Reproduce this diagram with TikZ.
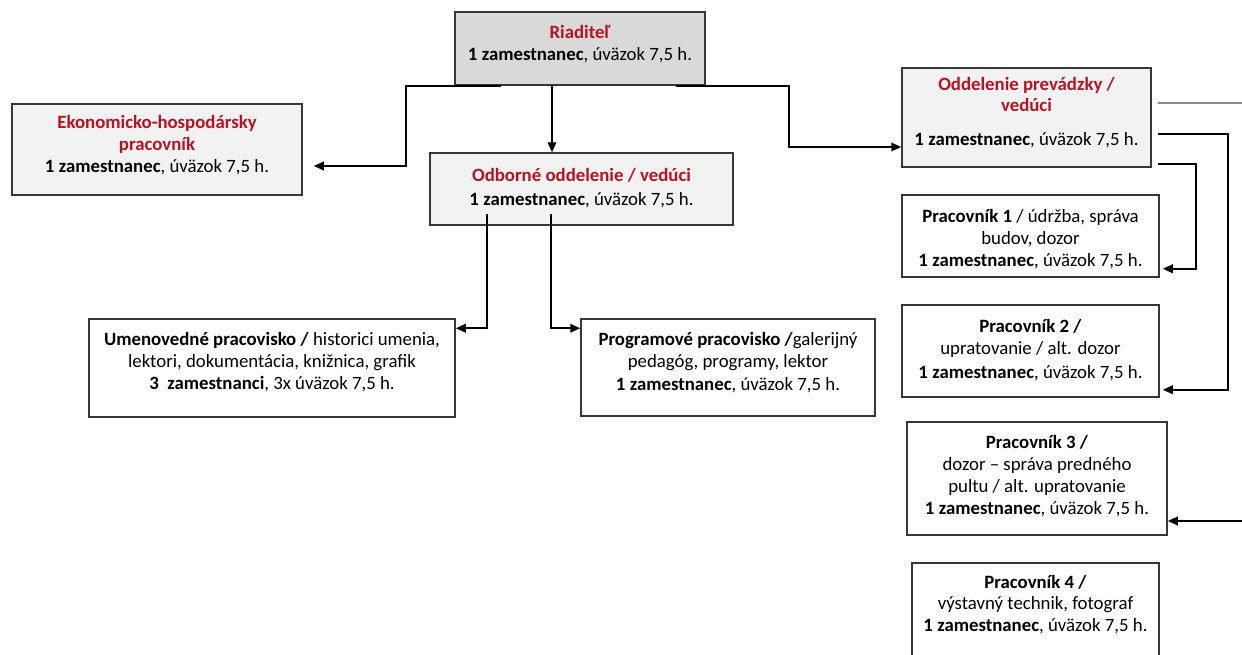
\documentclass[tikz,border=0pt]{standalone}
\usepackage{fontspec}
\setmainfont{Carlito}
\usetikzlibrary{arrows.meta,calc}
\definecolor{headred}{RGB}{180,20,35}
\definecolor{boxline}{RGB}{55,55,55}
\definecolor{fillA}{RGB}{217,217,217}
\definecolor{fillB}{RGB}{242,242,242}
\begin{document}
\begin{tikzpicture}[x=1pt,y=-1pt,font=\fontsize{18.8}{21.8}\selectfont,
  box/.style={draw=boxline,line width=1.5pt,inner sep=0pt},
  txt/.style={align=center,inner sep=0pt},
  conn/.style={line width=1.8pt,-{Triangle[length=10pt,width=8.5pt]}}]
  \clip (0,0) rectangle (1242,654);
  \fill[white] (0,0) rectangle (1242,654);

  % boxes
  \node[box,fill=fillA,minimum width=250pt,minimum height=73pt] (riad) at (580,48.5) {};
  \node[box,fill=fillB,minimum width=290pt,minimum height=91pt] (ekon) at (157,149.5) {};
  \node[box,fill=fillB,minimum width=303pt,minimum height=72pt] (odb) at (581.5,189) {};
  \node[box,fill=fillB,minimum width=249pt,minimum height=99pt] (oddp) at (1026.5,117.5) {};
  \node[box,fill=white,minimum width=257pt,minimum height=82pt] (prac1) at (1030.5,236) {};
  \node[box,fill=white,minimum width=257pt,minimum height=92pt] (prac2) at (1030.5,351) {};
  \node[box,fill=white,minimum width=260pt,minimum height=113pt] (prac3) at (1037,478.5) {};
  \node[box,fill=white,minimum width=247pt,minimum height=117pt] (prac4) at (1035.5,621.5) {};
  \node[box,fill=white,minimum width=366pt,minimum height=98pt] (umen) at (272,368) {};
  \node[box,fill=white,minimum width=294pt,minimum height=97pt] (prog) at (728,367.5) {};

  % texts
  \node[txt] (riadT) at (580,44) {\textcolor{headred}{\bfseries Riaditeľ}\\ \textbf{1 zamestnanec}, úväzok 7,5 h.};
  \node[txt] (ekonT) at (157,145) {\textcolor{headred}{\bfseries Ekonomicko-hospodársky}\\ \textcolor{headred}{\bfseries pracovník}\\ \textbf{1 zamestnanec}, úväzok 7,5 h.};
  \node[txt] (odbT) at (581.5,188) {\textcolor{headred}{\bfseries Odborné oddelenie / vedúci}\\[2pt] \textbf{1 zamestnanec}, úväzok 7,5 h.};
  \node[txt] (oddpT) at (1026.5,112.5) {\textcolor{headred}{\bfseries Oddelenie prevádzky /}\\ \textcolor{headred}{\bfseries vedúci}\\[12pt] \textbf{1 zamestnanec}, úväzok 7,5 h.};
  \node[txt] (prac1T) at (1030.5,239) {\textbf{Pracovník 1} / údržba, správa\\ budov, dozor\\ \textbf{1 zamestnanec}, úväzok 7,5 h.};
  \node[txt] (prac2T) at (1030.5,350) {\textbf{Pracovník 2 /}\\ upratovanie / alt. dozor\\[2pt] \textbf{1 zamestnanec}, úväzok 7,5 h.};
  \node[txt] (prac3T) at (1037,476) {\textbf{Pracovník 3 /}\\ dozor – správa predného\\ pultu / alt. upratovanie\\ \textbf{1 zamestnanec}, úväzok 7,5 h.};
  \node[txt] (prac4T) at (1035.5,604.5) {\textbf{Pracovník 4 /}\\ výstavný technik, fotograf\\ \textbf{1 zamestnanec}, úväzok 7,5 h.};
  \node[txt] (umenT) at (272,362) {\textbf{Umenovedné pracovisko /} historici umenia,\\ lektori, dokumentácia, knižnica, grafik\\ \textbf{3\ \ zamestnanci}, 3x úväzok 7,5 h.};
  \node[txt] (progT) at (728,362.5) {\textbf{Programové pracovisko /}galerijný\\ pedagóg, programy, lektor\\[1pt] \textbf{1 zamestnanec}, úväzok 7,5 h.};

  % connectors
  \coordinate (r1) at ($(riad.south)+(-28,0)$);
  \draw[conn] (r1) -- (r1 |- odb.north);
  \draw[conn] ($(riad.south west)+(47,0)$) -- ++(-95,0) |- ($(ekon.east)+(11,16.5)$);
  \draw[conn] ($(riad.south east)+(-30,0)$) -- ++(113,0) |- ($(oddp.west)+(0,29.5)$);
  \draw[conn] ($(odb.south west)+(58,-12)$) |- ($(umen.north east)+(0,10)$);
  \draw[conn] ($(odb.south west)+(122,-12)$) |- ($(prog.north west)+(0,10)$);
  \draw[line width=1.8pt,black!45] ($(oddp.north east)+(6,36)$) -- ++(95,0);
  \draw[conn] ($(oddp.north east)+(6,67)$) -- ++(70,0) |- ($(prac2.south east)+(3,-8)$);
  \draw[conn] ($(oddp.north east)+(6,97)$) -- ++(38,0) |- ($(prac1.south east)+(3,-9)$);
  \coordinate (p3in) at (1250,521);
  \draw[conn] (p3in) -- (p3in -| prac3.east);
\end{tikzpicture}
\end{document}
